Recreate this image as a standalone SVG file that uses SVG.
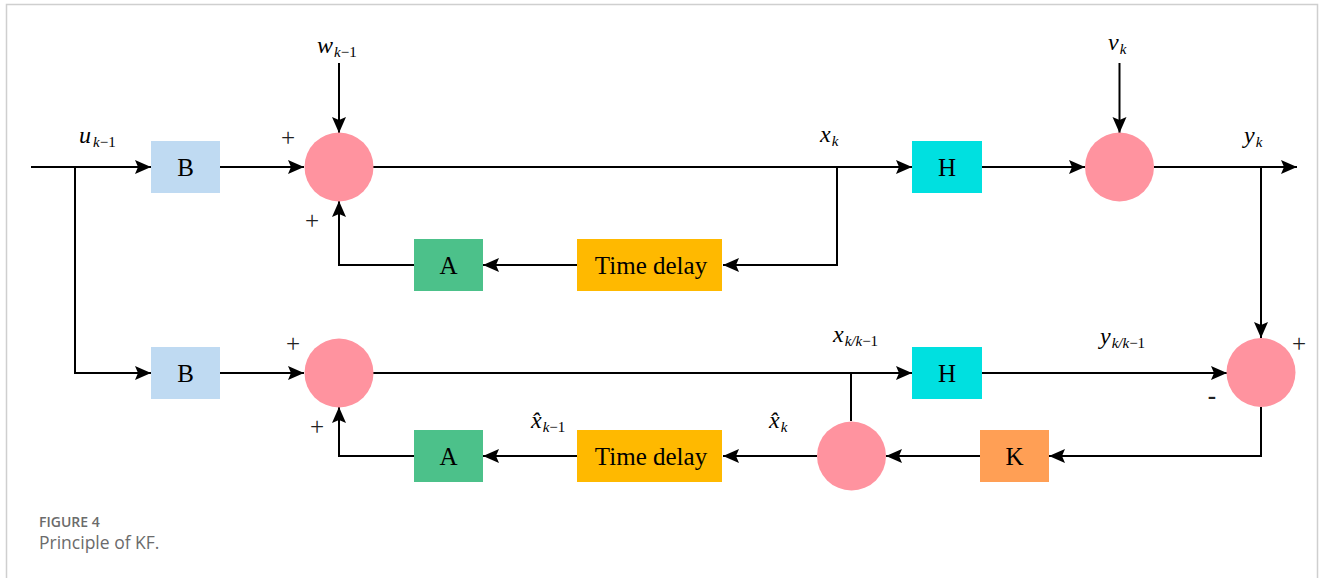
<svg xmlns="http://www.w3.org/2000/svg" width="1330" height="578" viewBox="0 0 1330 578">
  <style>
    .wire { fill: none; stroke: #000; stroke-width: 2; }
    .arr { marker-end: url(#head); }
    .box-label { font-family: "Liberation Serif", "Times New Roman", serif; font-size: 25px; fill: #000; text-anchor: middle; }
    .sym { font-family: "Liberation Serif", "Times New Roman", serif; font-style: italic; font-size: 24px; fill: #000; }
    .sub { font-size: 15px; }
    .sign { font-family: "Liberation Serif", "Times New Roman", serif; font-size: 25px; fill: #222; text-anchor: middle; }
    .sum { fill: #FF939F; }
    .cap1 { font-family: "Open Sans", "Liberation Sans", sans-serif; font-size: 14px; font-weight: 600; fill: #6b6b6b; }
    .cap2 { font-family: "Open Sans", "Liberation Sans", sans-serif; font-size: 17.5px; fill: #6b6b6b; }
  </style>
  <defs>
    <marker id="head" markerUnits="userSpaceOnUse" markerWidth="18" markerHeight="16" refX="16" refY="7" orient="auto">
      <path d="M0,0 L16,7 L0,14 L3,7 z" fill="#000"/>
    </marker>
  </defs>

  <rect width="1330" height="578" fill="#fff"/>
  <!-- card frame -->
  <path d="M6.5,578 V4.5 H1317.5 V578" fill="none" stroke="#cfcfcf" stroke-width="1.5"/>

  <!-- connectors -->
  <g id="connectors">
    <!-- input u and split -->
    <path class="wire arr" d="M31,167 H151"/>
    <path class="wire arr" d="M75,167 V373 H151"/>
    <!-- upper (system) path -->
    <path class="wire arr" d="M220,167 H304"/>
    <path class="wire arr" d="M339,63 V133"/>
    <path class="wire arr" d="M373,167 H912"/>
    <path class="wire arr" d="M837,167 V265 H723"/>
    <path class="wire arr" d="M577,265 H483"/>
    <path class="wire arr" d="M414,265 H339 V201"/>
    <path class="wire arr" d="M982,167 H1085"/>
    <path class="wire arr" d="M1119.5,63 V133"/>
    <path class="wire arr" d="M1154,167 H1297"/>
    <path class="wire" d="M1240,167 H1261" stroke-width="3"/>
    <path class="wire arr" d="M1261,167 V338"/>
    <!-- lower (estimator) path -->
    <path class="wire arr" d="M220,373 H304"/>
    <path class="wire arr" d="M373,373 H912"/>
    <path class="wire" d="M851,373 V421"/>
    <path class="wire arr" d="M982,373 H1227"/>
    <path class="wire arr" d="M1261,407 V456 H1049"/>
    <path class="wire arr" d="M980,456 H886"/>
    <path class="wire arr" d="M817,456 H723"/>
    <path class="wire arr" d="M577,456 H483"/>
    <path class="wire arr" d="M414,456 H339 V407"/>
  </g>

  <!-- upper row nodes -->
  <g id="B1"><rect x="151" y="141" width="69" height="52" fill="#BFDAF2"/><text class="box-label" x="185.5" y="176">B</text></g>
  <g id="sum1"><circle class="sum" cx="339" cy="167" r="34.5"/></g>
  <g id="H1"><rect x="912" y="141" width="70" height="52" fill="#00E0E0"/><text class="box-label" x="947" y="176">H</text></g>
  <g id="sum2"><circle class="sum" cx="1119.5" cy="167" r="34.5"/></g>
  <g id="A1"><rect x="414" y="239" width="69" height="52" fill="#4CC18A"/><text class="box-label" x="448.5" y="274">A</text></g>
  <g id="delay1"><rect x="577" y="239" width="145" height="52" fill="#FFB900"/><text class="box-label" x="651" y="274">Time delay</text></g>

  <!-- lower row nodes -->
  <g id="B2"><rect x="151" y="347" width="69" height="52" fill="#BFDAF2"/><text class="box-label" x="185.5" y="382">B</text></g>
  <g id="sum3"><circle class="sum" cx="339" cy="373" r="34.5"/></g>
  <g id="H2"><rect x="912" y="347" width="70" height="52" fill="#00E0E0"/><text class="box-label" x="947" y="382">H</text></g>
  <g id="sum4"><circle class="sum" cx="1261" cy="372.5" r="34.5"/></g>
  <g id="K"><rect x="980" y="430" width="69" height="52" fill="#FF9F55"/><text class="box-label" x="1014.5" y="465">K</text></g>
  <g id="sum5"><circle class="sum" cx="851.5" cy="456" r="34.5"/></g>
  <g id="delay2"><rect x="577" y="430" width="145" height="52" fill="#FFB900"/><text class="box-label" x="651" y="465">Time delay</text></g>
  <g id="A2"><rect x="414" y="430" width="69" height="52" fill="#4CC18A"/><text class="box-label" x="448.5" y="465">A</text></g>

  <!-- signal labels -->
  <g id="labels">
    <text class="sym" x="79" y="143">u<tspan class="sub" dx="2" dy="4">k</tspan><tspan class="sub" font-style="normal">−1</tspan></text>
    <text class="sym" x="317" y="53">w<tspan class="sub" dx="1" dy="4">k</tspan><tspan class="sub" font-style="normal">−1</tspan></text>
    <text class="sym" x="820" y="142">x<tspan class="sub" dx="1" dy="4">k</tspan></text>
    <text class="sym" x="1108" y="50">v<tspan class="sub" dx="1" dy="4">k</tspan></text>
    <text class="sym" x="1244" y="143">y<tspan class="sub" dx="1" dy="4">k</tspan></text>
    <text class="sym" x="833" y="342">x<tspan class="sub" dx="1" dy="4">k/k</tspan><tspan class="sub" font-style="normal">−1</tspan></text>
    <text class="sym" x="1100" y="344">y<tspan class="sub" dx="1" dy="4">k/k</tspan><tspan class="sub" font-style="normal">−1</tspan></text>
    <text class="sym" x="531" y="428">x̂<tspan class="sub" dx="1" dy="4">k</tspan><tspan class="sub" font-style="normal">−1</tspan></text>
    <text class="sym" x="769" y="428">x̂<tspan class="sub" dx="1" dy="4">k</tspan></text>
  </g>

  <!-- summing signs -->
  <g id="signs">
    <text class="sign" x="288" y="146">+</text>
    <text class="sign" x="312" y="229">+</text>
    <text class="sign" x="293" y="352">+</text>
    <text class="sign" x="317" y="435">+</text>
    <text class="sign" x="1299" y="352">+</text>
    <text class="sign" x="1212" y="404" font-weight="bold">-</text>
  </g>

  <!-- caption -->
  <g id="caption">
    <text class="cap1" x="39" y="527">FIGURE 4</text>
    <text class="cap2" x="39" y="549">Principle of KF.</text>
  </g>
</svg>
